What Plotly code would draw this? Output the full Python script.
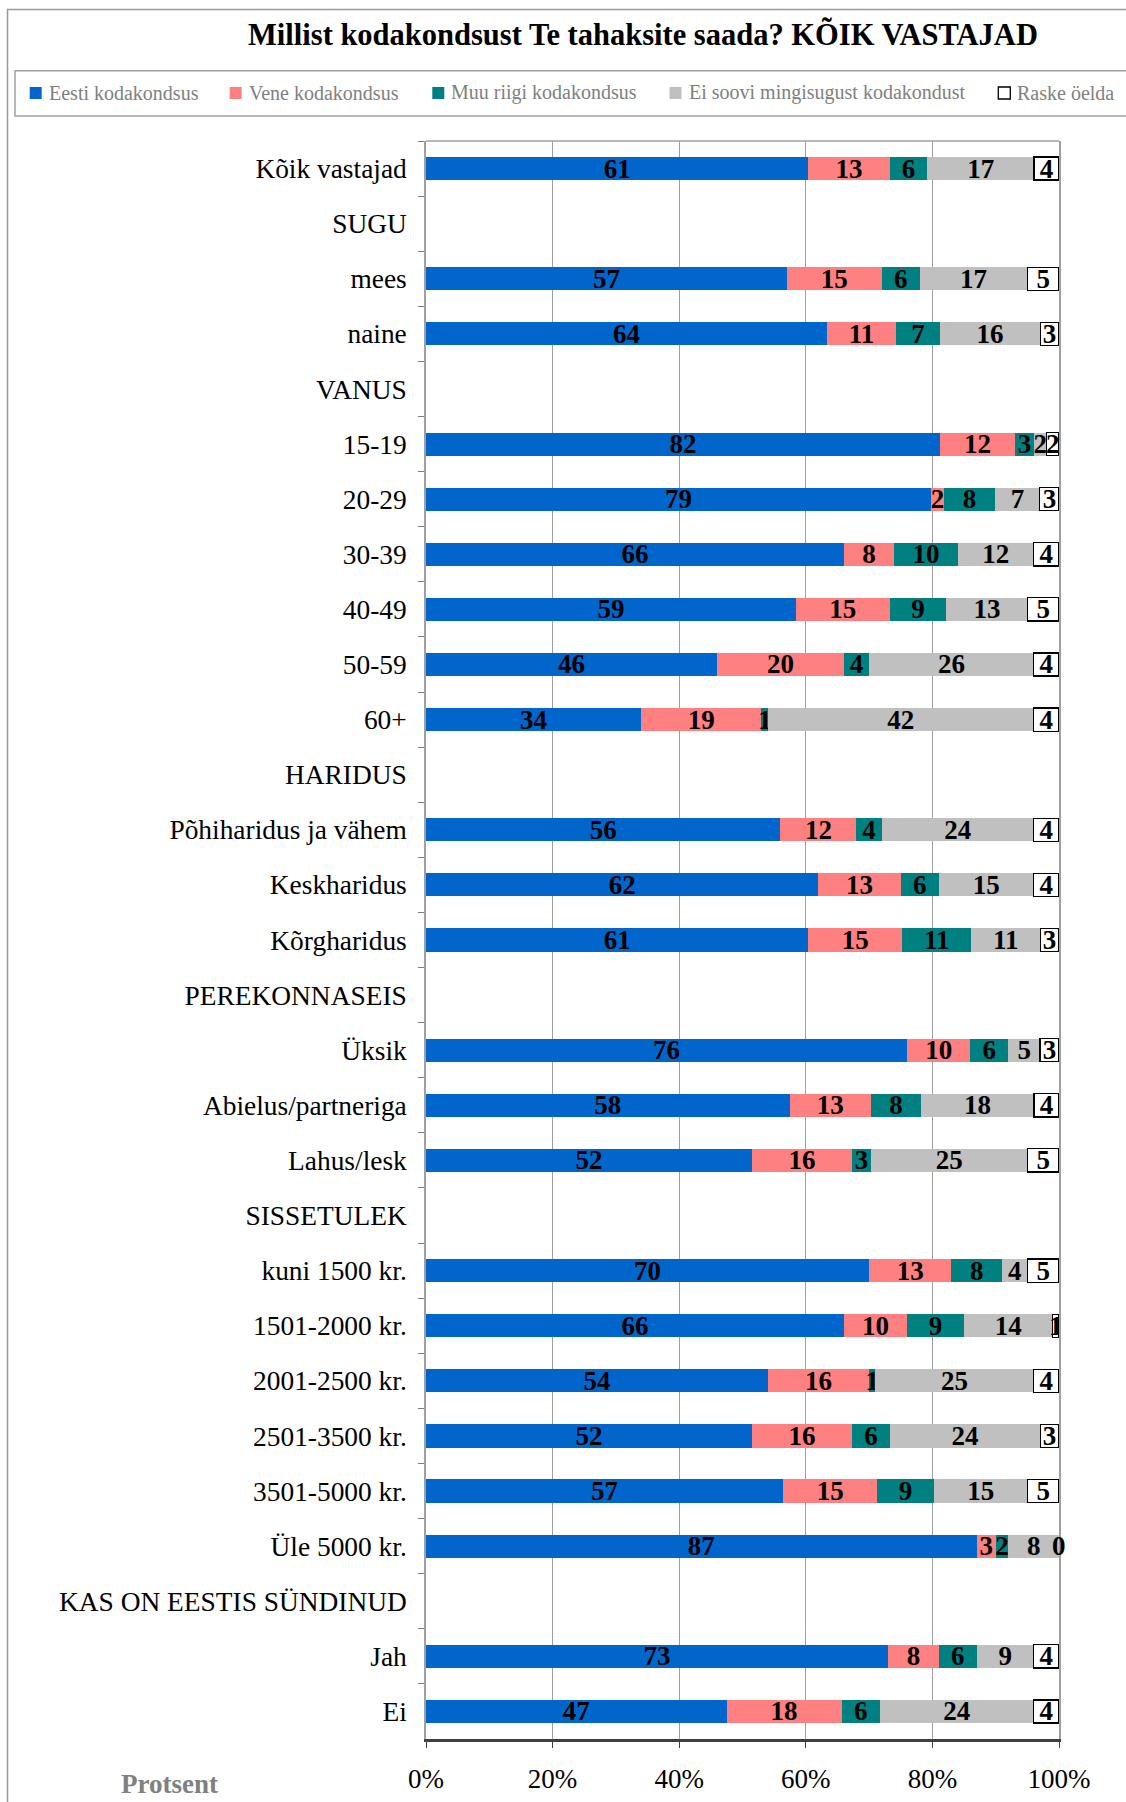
import plotly.graph_objects as go

categories = [
    "Kõik vastajad", "SUGU", "mees", "naine", "VANUS", "15-19", "20-29", "30-39",
    "40-49", "50-59", "60+", "HARIDUS", "Põhiharidus ja vähem", "Keskharidus",
    "Kõrgharidus", "PEREKONNASEIS", "Üksik", "Abielus/partneriga", "Lahus/lesk",
    "SISSETULEK", "kuni 1500 kr.", "1501-2000 kr.", "2001-2500 kr.", "2501-3500 kr.",
    "3501-5000 kr.", "Üle 5000 kr.", "KAS ON EESTIS SÜNDINUD", "Jah", "Ei",
]

N = None
eesti = [61, N, 57, 64, N, 82, 79, 66, 59, 46, 34, N, 56, 62, 61, N, 76, 58, 52, N, 70, 66, 54, 52, 57, 87, N, 73, 47]
vene = [13, N, 15, 11, N, 12, 2, 8, 15, 20, 19, N, 12, 13, 15, N, 10, 13, 16, N, 13, 10, 16, 16, 15, 3, N, 8, 18]
muu = [6, N, 6, 7, N, 3, 8, 10, 9, 4, 1, N, 4, 6, 11, N, 6, 8, 3, N, 8, 9, 1, 6, 9, 2, N, 6, 6]
ei_soovi = [17, N, 17, 16, N, 2, 7, 12, 13, 26, 42, N, 24, 15, 11, N, 5, 18, 25, N, 4, 14, 25, 24, 15, 8, N, 9, 24]
raske = [4, N, 5, 3, N, 2, 3, 4, 5, 4, 4, N, 4, 4, 3, N, 3, 4, 5, N, 5, 1, 4, 3, 5, 0, N, 4, 4]

series_names = ["Eesti kodakondsus", "Vene kodakondsus", "Muu riigi kodakondsus",
                "Ei soovi mingisugust kodakondust", "Raske öelda"]
series_values = [eesti, vene, muu, ei_soovi, raske]

tick_vals = [0, 20, 40, 60, 80, 100]
tick_text = ["0%", "20%", "40%", "60%", "80%", "100%"]

# styles
fill_colors = ["#0066CC", "#FF8080", "#008080", "#C0C0C0", "#FFFFFF"]
line_colors = ["#0066CC", "#FF8080", "#008080", "#C0C0C0", "#000000"]
line_widths = [0, 0, 0, 0, 1.3]
legend_marker_x = [35.7, 235.7, 438.3, 675.5, 1004.3]   # page px, legend symbols

SERIF = "Liberation Serif, Times New Roman, serif"
W, H = 1126, 1802
L, R, T, B = 426, 1059, 141, 1739
pw, ph = R - L, B - T


def px_x(p):
    return (p - L) / pw


def px_y(p):
    return (B - p) / ph


fig = go.Figure()
for name, vals, fc, lc, lw in zip(series_names, series_values, fill_colors, line_colors, line_widths):
    fig.add_trace(go.Bar(
        name=name, y=categories, x=vals, orientation="h",
        marker=dict(color=fc, line=dict(color=lc,
                                         width=[(lw if (v is not None and v > 0) else 0) for v in vals])),
        text=[("" if v is None else str(v)) for v in vals],
        texttemplate="<b>%{text}</b>",
        textposition="inside", insidetextanchor="middle", textangle=0,
        constraintext="none",
        textfont=dict(family=SERIF, size=27, color="black"),
        hoverinfo="skip", showlegend=False,
    ))

# labels of zero-width segments (plotly does not draw text on empty bars)
for i, cat in enumerate(categories):
    row = [s[i] for s in series_values]
    if row[0] is None:
        continue
    total = sum(row)
    cum = 0
    for v in row:
        cum += v
        if v == 0:
            fig.add_annotation(x=100 * cum / total, y=cat, xref="x", yref="y",
                               text="<b>0</b>", showarrow=False,
                               xanchor="center", yanchor="middle",
                               font=dict(family=SERIF, size=27, color="black"))

fig.update_layout(
    width=W, height=H,
    barmode="stack", barnorm="percent", bargap=0.58,
    paper_bgcolor="white", plot_bgcolor="white",
    margin=dict(l=L, r=W - R, t=T, b=H - B, autoexpand=False),
    font=dict(family=SERIF, color="black"),
    uniformtext=dict(minsize=27, mode="show"),
    showlegend=False,
    title=dict(
        text="<b>Millist kodakondsust Te tahaksite saada? KÕIK VASTAJAD</b>",
        x=643 / W, xanchor="center", y=1 - 34 / H, yanchor="middle",
        font=dict(family=SERIF, size=30.5, color="black"),
    ),
)

fig.update_xaxes(
    range=[0, 100], tickvals=tick_vals, ticktext=tick_text,
    tickfont=dict(family=SERIF, size=27, color="black"),
    showgrid=True, gridcolor="#A0A0A0", gridwidth=1,
    showline=True, linecolor="#404040", linewidth=2.5,
    ticks="outside", ticklen=6, tickcolor="#404040",
    ticklabelstandoff=8, zeroline=False, fixedrange=True,
)
fig.update_yaxes(
    autorange="reversed", type="category",
    tickfont=dict(family=SERIF, size=27.4, color="black"),
    showgrid=False, showline=True, linecolor="#A0A0A0", linewidth=1.5, mirror=True,
    ticks="outside", ticklen=6, tickcolor="#808080", tickson="boundaries",
    ticklabelstandoff=12, fixedrange=True,
)

# top border of plot area
fig.add_shape(type="line", xref="paper", yref="paper", x0=0, x1=1, y0=1, y1=1,
              line=dict(color="#A0A0A0", width=1.5))
# outer chart frame
fig.add_shape(type="rect", xref="paper", yref="paper",
              x0=px_x(7.5), x1=px_x(1140), y0=px_y(1815), y1=px_y(9.5),
              line=dict(color="#999999", width=1.5), layer="below")

# legend box and entries
fig.add_shape(type="rect", xref="paper", yref="paper",
              x0=px_x(15), x1=px_x(1140), y0=px_y(116), y1=px_y(70.7),
              line=dict(color="#A0A0A0", width=1.5), fillcolor="white", layer="below")
LEG_Y = 93
for name, fc, lc, lw, mx in zip(series_names, fill_colors, line_colors, line_widths, legend_marker_x):
    fig.add_shape(type="rect", xref="paper", yref="paper",
                  x0=px_x(mx - 6), x1=px_x(mx + 6), y0=px_y(LEG_Y + 6), y1=px_y(LEG_Y - 6),
                  fillcolor=fc, line=dict(color=lc, width=lw))
    fig.add_annotation(text=name, xref="paper", yref="paper",
                       x=px_x(mx + 11), y=px_y(LEG_Y), xanchor="left", yanchor="middle",
                       showarrow=False, font=dict(family=SERIF, size=20, color="#808080"))

fig.add_annotation(
    text="<b>Protsent</b>", xref="paper", yref="paper",
    x=px_x(169), y=px_y(1784), xanchor="center", yanchor="middle",
    showarrow=False, font=dict(family=SERIF, size=27, color="#808080"),
)

fig.write_html("out.html", config={"displayModeBar": False},
               post_script="document.body.style.margin='0px';")
